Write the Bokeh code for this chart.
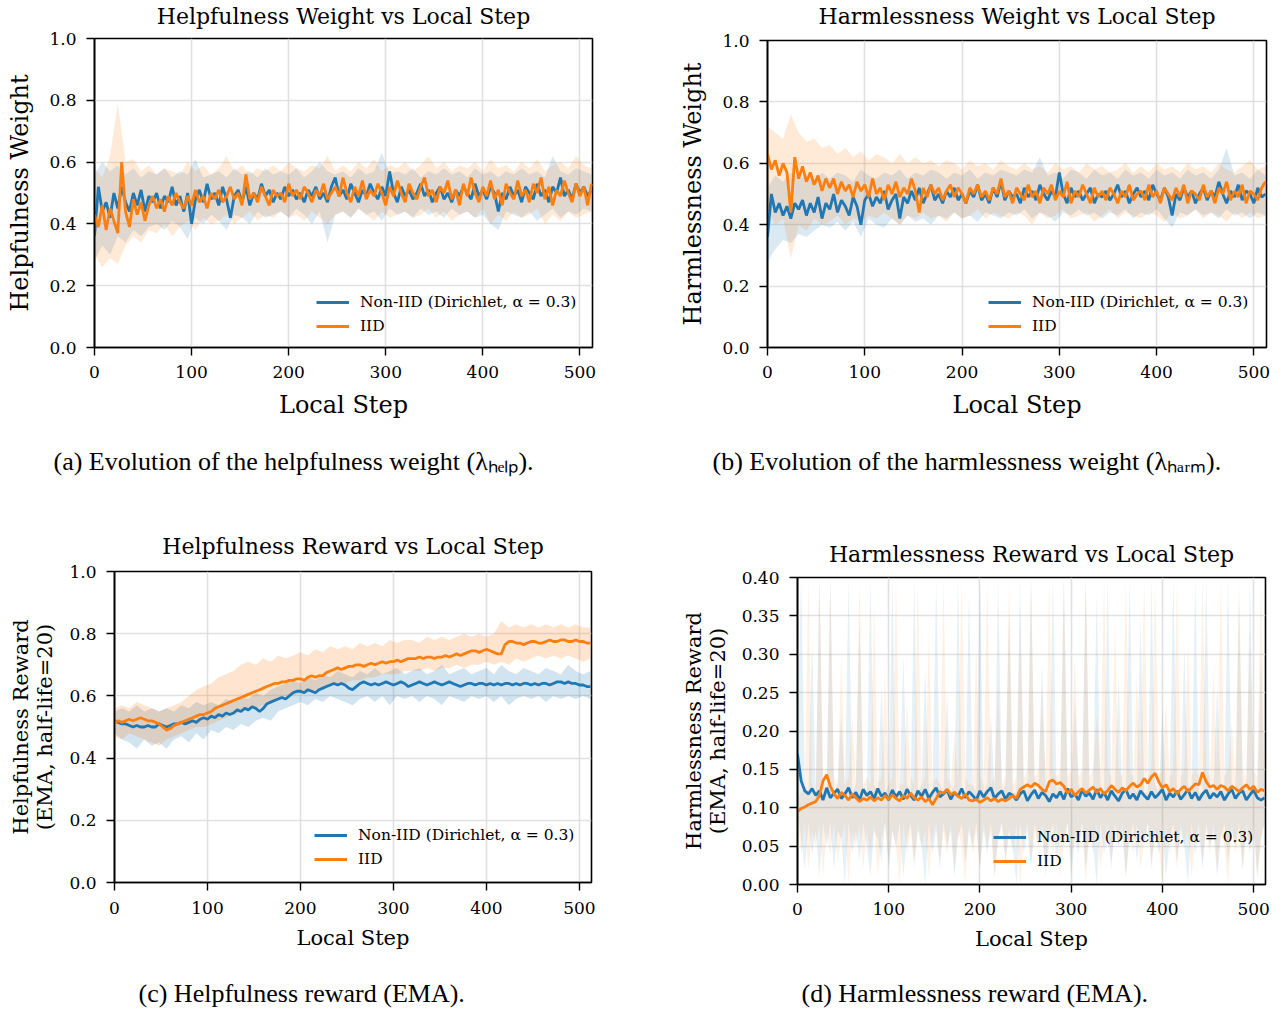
import numpy as np
from bokeh.plotting import figure
from bokeh.models import Range1d, FixedTicker, NumeralTickFormatter, Title
from bokeh.layouts import column, row
from bokeh.embed import file_html
from bokeh.resources import INLINE

BLUE = "#1f77b4"
ORANGE = "#ff7f0e"
SERIES_NAMES = ["Non-IID (Dirichlet, α = 0.3)", "IID"]
STEPS4 = np.arange(0, 513, 4)
STEPS8 = np.arange(0, 513, 8)
X_TICKS = [0, 100, 200, 300, 400, 500]

# ---------------- (a) Helpfulness weight ----------------
help_w_noniid = [
    0.36, 0.52, 0.44, 0.47, 0.42, 0.50, 0.45, 0.52,
    0.47, 0.44, 0.50, 0.46, 0.51, 0.44, 0.49, 0.47,
    0.50, 0.45, 0.49, 0.47, 0.52, 0.46, 0.49, 0.44,
    0.50, 0.40, 0.48, 0.51, 0.47, 0.53, 0.48, 0.50,
    0.46, 0.52, 0.48, 0.42, 0.49, 0.51, 0.47, 0.52,
    0.46, 0.50, 0.48, 0.53, 0.49, 0.51, 0.47, 0.50,
    0.48, 0.52, 0.49, 0.51, 0.48, 0.50, 0.47, 0.51,
    0.49, 0.52, 0.48, 0.50, 0.47, 0.52, 0.55, 0.49,
    0.51, 0.48, 0.53, 0.50, 0.47, 0.51, 0.49, 0.53,
    0.50, 0.48, 0.52, 0.49, 0.57, 0.50, 0.47, 0.52,
    0.49, 0.51, 0.48, 0.50, 0.53, 0.49, 0.51, 0.47,
    0.50, 0.52, 0.48, 0.50, 0.47, 0.51, 0.49, 0.52,
    0.50, 0.48, 0.53, 0.49, 0.51, 0.48, 0.52, 0.50,
    0.44, 0.50, 0.48, 0.52, 0.49, 0.51, 0.47, 0.52,
    0.50, 0.48, 0.53, 0.49, 0.51, 0.47, 0.52, 0.50,
    0.55, 0.49, 0.51, 0.48, 0.53, 0.50, 0.52, 0.49,
    0.51]
help_w_iid = [
    0.43, 0.39, 0.46, 0.38, 0.45, 0.41, 0.37, 0.60,
    0.44, 0.39, 0.48, 0.43, 0.47, 0.41, 0.46, 0.49,
    0.45, 0.48, 0.44, 0.49, 0.46, 0.50, 0.47, 0.45,
    0.49, 0.46, 0.51, 0.47, 0.49, 0.45, 0.50, 0.48,
    0.51, 0.47, 0.49, 0.52, 0.48, 0.50, 0.46, 0.56,
    0.48, 0.50, 0.47, 0.52, 0.49, 0.46, 0.51, 0.49,
    0.50, 0.47, 0.53, 0.49, 0.51, 0.48, 0.52, 0.50,
    0.47, 0.51, 0.49, 0.53, 0.48, 0.50, 0.52, 0.49,
    0.55, 0.50, 0.47, 0.52, 0.49, 0.54, 0.48, 0.51,
    0.49, 0.53, 0.50, 0.46, 0.52, 0.49, 0.54, 0.50,
    0.47, 0.53, 0.50, 0.48, 0.52, 0.55, 0.49, 0.51,
    0.47, 0.52, 0.50, 0.54, 0.48, 0.51, 0.46, 0.53,
    0.49, 0.55, 0.50, 0.47, 0.52, 0.49, 0.54, 0.48,
    0.51, 0.46, 0.53, 0.50, 0.48, 0.54, 0.49, 0.51,
    0.47, 0.53, 0.50, 0.55, 0.48, 0.52, 0.46, 0.51,
    0.49, 0.54, 0.50, 0.47, 0.53, 0.49, 0.52, 0.46,
    0.53]
help_w_noniid_lo = [
    0.28, 0.33, 0.30, 0.36, 0.34, 0.38, 0.36, 0.39,
    0.40, 0.38, 0.41, 0.39, 0.35, 0.42, 0.40, 0.43,
    0.41, 0.38, 0.43, 0.42, 0.40, 0.44, 0.42, 0.43,
    0.44, 0.42, 0.45, 0.43, 0.40, 0.44, 0.34, 0.43,
    0.44, 0.42, 0.45, 0.43, 0.44, 0.41, 0.45, 0.43,
    0.44, 0.42, 0.45, 0.43, 0.44, 0.42, 0.45, 0.43,
    0.44, 0.42, 0.43, 0.40, 0.38, 0.44, 0.43, 0.42,
    0.44, 0.41, 0.43, 0.45, 0.42, 0.44, 0.43, 0.45,
    0.44]
help_w_noniid_hi = [
    0.56, 0.60, 0.57, 0.59, 0.56, 0.58, 0.55, 0.57,
    0.56, 0.58, 0.55, 0.57, 0.56, 0.61, 0.55, 0.56,
    0.57, 0.55, 0.58, 0.56, 0.57, 0.55, 0.58, 0.56,
    0.57, 0.56, 0.58, 0.55, 0.57, 0.60, 0.57, 0.56,
    0.57, 0.55, 0.58, 0.56, 0.57, 0.63, 0.56, 0.57,
    0.56, 0.58, 0.55, 0.57, 0.56, 0.58, 0.56, 0.57,
    0.55, 0.58, 0.56, 0.57, 0.55, 0.57, 0.56, 0.58,
    0.56, 0.57, 0.55, 0.62, 0.57, 0.56, 0.58, 0.57,
    0.56]
help_w_iid_lo = [
    0.30, 0.26, 0.29, 0.27, 0.33, 0.36, 0.34, 0.38,
    0.37, 0.40, 0.36, 0.39, 0.41, 0.38, 0.42, 0.40,
    0.41, 0.43, 0.40, 0.42, 0.44, 0.41, 0.43, 0.42,
    0.44, 0.42, 0.43, 0.41, 0.44, 0.42, 0.40, 0.43,
    0.44, 0.42, 0.45, 0.43, 0.41, 0.44, 0.42, 0.43,
    0.44, 0.42, 0.43, 0.45, 0.42, 0.44, 0.41, 0.43,
    0.44, 0.42, 0.45, 0.40, 0.43, 0.41, 0.44, 0.42,
    0.43, 0.45, 0.40, 0.43, 0.41, 0.44, 0.42, 0.43,
    0.44]
help_w_iid_hi = [
    0.58, 0.55, 0.62, 0.79, 0.60, 0.61, 0.57, 0.59,
    0.56, 0.58, 0.57, 0.56, 0.60, 0.57, 0.59, 0.56,
    0.58, 0.62, 0.57, 0.59, 0.56, 0.58, 0.57, 0.59,
    0.57, 0.60, 0.58, 0.57, 0.59, 0.58, 0.62, 0.57,
    0.59, 0.57, 0.60, 0.58, 0.61, 0.57, 0.59, 0.58,
    0.60, 0.57, 0.59, 0.62, 0.58, 0.60, 0.57, 0.59,
    0.58, 0.60, 0.57, 0.61, 0.58, 0.59, 0.57, 0.60,
    0.58, 0.61, 0.57, 0.59, 0.60, 0.58, 0.62, 0.59,
    0.58]

# ---------------- (b) Harmlessness weight ----------------
harm_w_noniid = [
    0.36, 0.50, 0.44, 0.47, 0.43, 0.46, 0.42, 0.47,
    0.45, 0.48, 0.43, 0.47, 0.44, 0.49, 0.42, 0.47,
    0.45, 0.50, 0.44, 0.48, 0.46, 0.43, 0.49, 0.46,
    0.40, 0.48, 0.50, 0.46, 0.49, 0.47, 0.51, 0.45,
    0.48, 0.50, 0.42, 0.49, 0.47, 0.51, 0.48, 0.52,
    0.47, 0.50, 0.53, 0.48, 0.50, 0.47, 0.51, 0.49,
    0.52, 0.48, 0.50, 0.47, 0.51, 0.49, 0.53, 0.48,
    0.50, 0.47, 0.52, 0.49, 0.54, 0.48, 0.51, 0.49,
    0.50, 0.47, 0.52, 0.49, 0.51, 0.48, 0.53, 0.50,
    0.48, 0.51, 0.49, 0.57, 0.50, 0.47, 0.52, 0.49,
    0.51, 0.48, 0.50, 0.52, 0.47, 0.50, 0.49, 0.51,
    0.48, 0.50, 0.53, 0.49, 0.51, 0.47, 0.50, 0.52,
    0.49, 0.51, 0.48, 0.53, 0.50, 0.48, 0.52, 0.49,
    0.43, 0.50, 0.48, 0.52, 0.49, 0.51, 0.47, 0.50,
    0.52, 0.48, 0.51, 0.49, 0.54, 0.50, 0.47, 0.51,
    0.49, 0.53, 0.48, 0.51, 0.50, 0.47, 0.52, 0.49,
    0.50]
harm_w_iid = [
    0.63, 0.58, 0.61, 0.56, 0.60, 0.57, 0.44, 0.62,
    0.55, 0.59, 0.54, 0.57, 0.53, 0.56, 0.51, 0.55,
    0.52, 0.55, 0.50, 0.54, 0.51, 0.53, 0.49, 0.54,
    0.51, 0.53, 0.49, 0.55, 0.50, 0.52, 0.48, 0.53,
    0.50, 0.54, 0.49, 0.52, 0.50, 0.55, 0.51, 0.44,
    0.52, 0.49, 0.53, 0.50, 0.52, 0.48, 0.51, 0.53,
    0.49, 0.52, 0.50, 0.47, 0.52, 0.50, 0.53, 0.49,
    0.51, 0.48, 0.52, 0.50, 0.55, 0.49, 0.51, 0.47,
    0.52, 0.50, 0.48, 0.53, 0.49, 0.51, 0.47, 0.52,
    0.50, 0.53, 0.48, 0.51, 0.49, 0.54, 0.47, 0.51,
    0.49, 0.53, 0.50, 0.47, 0.52, 0.49, 0.51, 0.48,
    0.52, 0.50, 0.47, 0.51, 0.49, 0.53, 0.48, 0.50,
    0.51, 0.48, 0.53, 0.49, 0.51, 0.47, 0.52, 0.50,
    0.48, 0.52, 0.49, 0.53, 0.47, 0.51, 0.50, 0.48,
    0.53, 0.49, 0.51, 0.47, 0.52, 0.50, 0.54, 0.48,
    0.51, 0.49, 0.53, 0.47, 0.51, 0.50, 0.48, 0.52,
    0.54]
harm_w_noniid_lo = [
    0.28, 0.32, 0.35, 0.34, 0.37, 0.36, 0.38, 0.40,
    0.39, 0.41, 0.38, 0.41, 0.36, 0.42, 0.40, 0.39,
    0.42, 0.40, 0.43, 0.41, 0.42, 0.40, 0.43, 0.42,
    0.44, 0.42, 0.43, 0.41, 0.44, 0.43, 0.42, 0.44,
    0.43, 0.45, 0.42, 0.44, 0.43, 0.41, 0.44, 0.43,
    0.45, 0.43, 0.44, 0.42, 0.44, 0.43, 0.45, 0.42,
    0.44, 0.43, 0.45, 0.42, 0.39, 0.44, 0.43, 0.45,
    0.43, 0.44, 0.42, 0.45, 0.43, 0.44, 0.42, 0.44,
    0.43]
harm_w_noniid_hi = [
    0.52, 0.56, 0.54, 0.57, 0.55, 0.56, 0.54, 0.57,
    0.55, 0.57, 0.56, 0.54, 0.58, 0.56, 0.55, 0.57,
    0.56, 0.58, 0.55, 0.57, 0.56, 0.58, 0.57, 0.55,
    0.57, 0.56, 0.58, 0.55, 0.57, 0.56, 0.58, 0.57,
    0.56, 0.58, 0.57, 0.62, 0.56, 0.57, 0.55, 0.58,
    0.57, 0.55, 0.58, 0.56, 0.57, 0.55, 0.58, 0.56,
    0.57, 0.55, 0.58, 0.56, 0.57, 0.55, 0.58, 0.56,
    0.57, 0.55, 0.58, 0.65, 0.56, 0.57, 0.55, 0.58,
    0.56]
harm_w_iid_lo = [
    0.45, 0.40, 0.42, 0.29, 0.40, 0.38, 0.42, 0.40,
    0.41, 0.43, 0.40, 0.42, 0.41, 0.43, 0.42, 0.44,
    0.42, 0.40, 0.43, 0.42, 0.44, 0.42, 0.43, 0.41,
    0.44, 0.42, 0.43, 0.45, 0.42, 0.44, 0.43, 0.42,
    0.44, 0.43, 0.40, 0.44, 0.42, 0.43, 0.45, 0.42,
    0.43, 0.44, 0.41, 0.43, 0.45, 0.42, 0.44, 0.43,
    0.42, 0.44, 0.43, 0.41, 0.44, 0.42, 0.43, 0.45,
    0.42, 0.44, 0.43, 0.41, 0.44, 0.42, 0.44, 0.42,
    0.43]
harm_w_iid_hi = [
    0.72, 0.70, 0.68, 0.76, 0.70, 0.67, 0.68, 0.65,
    0.66, 0.63, 0.65, 0.62, 0.64, 0.61, 0.63, 0.62,
    0.60, 0.63, 0.60, 0.62, 0.60, 0.61, 0.59, 0.61,
    0.60, 0.58, 0.61, 0.59, 0.60, 0.58, 0.61, 0.59,
    0.58, 0.60, 0.58, 0.59, 0.57, 0.60, 0.58, 0.59,
    0.57, 0.60, 0.58, 0.59, 0.57, 0.58, 0.60, 0.57,
    0.59, 0.57, 0.60, 0.58, 0.59, 0.57, 0.60, 0.58,
    0.59, 0.57, 0.60, 0.58, 0.57, 0.59, 0.61, 0.58,
    0.59]

# ---------------- (c) Helpfulness reward (EMA) ----------------
help_r_noniid = [
    0.52, 0.515, 0.51, 0.51, 0.505, 0.50, 0.505, 0.50,
    0.50, 0.505, 0.50, 0.50, 0.51, 0.505, 0.50, 0.505,
    0.51, 0.51, 0.515, 0.51, 0.515, 0.52, 0.515, 0.525,
    0.53, 0.525, 0.535, 0.53, 0.54, 0.535, 0.545, 0.54,
    0.545, 0.555, 0.55, 0.56, 0.555, 0.565, 0.56, 0.55,
    0.56, 0.575, 0.58, 0.585, 0.59, 0.595, 0.59, 0.60,
    0.61, 0.615, 0.615, 0.61, 0.62, 0.615, 0.61, 0.62,
    0.625, 0.63, 0.635, 0.64, 0.635, 0.64, 0.635, 0.625,
    0.62, 0.63, 0.64, 0.645, 0.64, 0.635, 0.64, 0.635,
    0.64, 0.645, 0.64, 0.635, 0.64, 0.645, 0.64, 0.63,
    0.635, 0.64, 0.645, 0.64, 0.635, 0.64, 0.645, 0.64,
    0.635, 0.64, 0.645, 0.64, 0.635, 0.63, 0.635, 0.64,
    0.64, 0.635, 0.64, 0.64, 0.635, 0.64, 0.635, 0.64,
    0.635, 0.64, 0.64, 0.635, 0.64, 0.635, 0.64, 0.64,
    0.635, 0.64, 0.635, 0.64, 0.64, 0.635, 0.64, 0.645,
    0.645, 0.64, 0.645, 0.64, 0.64, 0.635, 0.635, 0.63,
    0.63]
help_r_iid = [
    0.515, 0.52, 0.515, 0.52, 0.525, 0.52, 0.525, 0.53,
    0.525, 0.52, 0.52, 0.515, 0.51, 0.50, 0.49, 0.495,
    0.505, 0.51, 0.515, 0.52, 0.525, 0.53, 0.535, 0.54,
    0.54, 0.545, 0.55, 0.56, 0.565, 0.57, 0.575, 0.58,
    0.585, 0.59, 0.595, 0.60, 0.605, 0.61, 0.615, 0.62,
    0.625, 0.63, 0.635, 0.64, 0.64, 0.645, 0.645, 0.65,
    0.65, 0.655, 0.655, 0.65, 0.66, 0.665, 0.66, 0.665,
    0.665, 0.675, 0.68, 0.685, 0.69, 0.685, 0.69, 0.695,
    0.695, 0.70, 0.70, 0.695, 0.70, 0.705, 0.70, 0.705,
    0.71, 0.705, 0.71, 0.71, 0.715, 0.71, 0.715, 0.72,
    0.72, 0.72, 0.725, 0.72, 0.725, 0.725, 0.72, 0.725,
    0.725, 0.73, 0.725, 0.73, 0.735, 0.73, 0.735, 0.74,
    0.745, 0.745, 0.74, 0.745, 0.75, 0.745, 0.74, 0.735,
    0.735, 0.765, 0.775, 0.775, 0.77, 0.77, 0.765, 0.77,
    0.775, 0.775, 0.77, 0.77, 0.775, 0.78, 0.775, 0.775,
    0.78, 0.78, 0.775, 0.775, 0.78, 0.775, 0.775, 0.77,
    0.77]
help_r_noniid_lo = [
    0.48, 0.46, 0.45, 0.43, 0.46, 0.44, 0.45, 0.43,
    0.46, 0.47, 0.45, 0.48, 0.46, 0.49, 0.48, 0.50,
    0.49, 0.51, 0.50, 0.52, 0.53, 0.52, 0.55, 0.56,
    0.57, 0.58, 0.57, 0.59, 0.58, 0.60, 0.59, 0.58,
    0.57, 0.59, 0.60, 0.58, 0.60, 0.57, 0.60, 0.59,
    0.60, 0.58, 0.60, 0.59, 0.57, 0.60, 0.59, 0.58,
    0.60, 0.59, 0.60, 0.58, 0.60, 0.57, 0.59, 0.60,
    0.59, 0.60, 0.58, 0.60, 0.59, 0.60, 0.59, 0.60,
    0.59]
help_r_noniid_hi = [
    0.55, 0.56, 0.55, 0.57, 0.55, 0.56, 0.55, 0.56,
    0.55, 0.57, 0.56, 0.58, 0.57, 0.58, 0.57, 0.59,
    0.58, 0.60, 0.59, 0.61, 0.60, 0.62, 0.63, 0.64,
    0.65, 0.64, 0.66, 0.65, 0.67, 0.66, 0.68, 0.67,
    0.66, 0.68, 0.67, 0.69, 0.67, 0.68, 0.69, 0.67,
    0.68, 0.69, 0.67, 0.68, 0.70, 0.67, 0.68, 0.69,
    0.67, 0.68, 0.69, 0.67, 0.70, 0.68, 0.67, 0.69,
    0.68, 0.67, 0.69, 0.68, 0.67, 0.70, 0.68, 0.67,
    0.68]
help_r_iid_lo = [
    0.47, 0.46, 0.48, 0.47, 0.46, 0.45, 0.44, 0.46,
    0.47, 0.48, 0.49, 0.50, 0.50, 0.51, 0.52, 0.53,
    0.54, 0.55, 0.56, 0.56, 0.57, 0.58, 0.59, 0.60,
    0.60, 0.61, 0.61, 0.62, 0.63, 0.63, 0.64, 0.64,
    0.65, 0.65, 0.66, 0.66, 0.67, 0.67, 0.67, 0.68,
    0.68, 0.68, 0.69, 0.68, 0.69, 0.69, 0.70, 0.69,
    0.70, 0.70, 0.71, 0.70, 0.71, 0.70, 0.72, 0.71,
    0.72, 0.73, 0.72, 0.73, 0.72, 0.73, 0.72, 0.71,
    0.72]
help_r_iid_hi = [
    0.56, 0.57, 0.56, 0.58, 0.57, 0.56, 0.55, 0.56,
    0.57, 0.58, 0.60, 0.62, 0.63, 0.64, 0.66, 0.67,
    0.68, 0.70, 0.71, 0.70, 0.72, 0.71, 0.73, 0.72,
    0.73, 0.74, 0.73, 0.75, 0.74, 0.76, 0.75, 0.76,
    0.75, 0.77, 0.76, 0.77, 0.76, 0.78, 0.77, 0.78,
    0.78, 0.77, 0.79, 0.78, 0.79, 0.78, 0.79, 0.80,
    0.79, 0.80, 0.79, 0.80, 0.84, 0.82, 0.83, 0.82,
    0.83, 0.82, 0.83, 0.82, 0.83, 0.82, 0.83, 0.82,
    0.82]

# ---------------- (d) Harmlessness reward (EMA) ----------------
harm_r_noniid = [
    0.170, 0.135, 0.122, 0.118, 0.125, 0.116, 0.122, 0.110,
    0.126, 0.113, 0.119, 0.124, 0.112, 0.118, 0.126, 0.113,
    0.120, 0.110, 0.124, 0.116, 0.121, 0.112, 0.125, 0.115,
    0.119, 0.110, 0.123, 0.114, 0.121, 0.111, 0.124, 0.116,
    0.110, 0.122, 0.115, 0.124, 0.112, 0.120, 0.126, 0.114,
    0.118, 0.123, 0.111, 0.120, 0.115, 0.125, 0.113, 0.121,
    0.116, 0.110, 0.122, 0.114, 0.121, 0.126, 0.112, 0.118,
    0.122, 0.111, 0.119, 0.116, 0.110, 0.118, 0.122, 0.109,
    0.117, 0.123, 0.112, 0.120, 0.116, 0.108, 0.118, 0.113,
    0.121, 0.111, 0.125, 0.114, 0.118, 0.110, 0.123, 0.115,
    0.119, 0.111, 0.124, 0.113, 0.120, 0.110, 0.122, 0.115,
    0.109, 0.119, 0.124, 0.112, 0.118, 0.110, 0.122, 0.116,
    0.111, 0.121, 0.113, 0.118, 0.124, 0.110, 0.119, 0.114,
    0.122, 0.111, 0.117, 0.124, 0.112, 0.120, 0.110, 0.118,
    0.123, 0.112, 0.119, 0.114, 0.121, 0.110, 0.118, 0.124,
    0.112, 0.119, 0.122, 0.110, 0.117, 0.123, 0.113, 0.110,
    0.113]
harm_r_iid = [
    0.095, 0.099, 0.101, 0.104, 0.106, 0.108, 0.116, 0.135,
    0.143, 0.128, 0.118, 0.112, 0.120, 0.116, 0.110, 0.118,
    0.113, 0.108, 0.112, 0.110, 0.114, 0.109, 0.113, 0.110,
    0.116, 0.111, 0.117, 0.112, 0.109, 0.116, 0.112, 0.119,
    0.113, 0.110, 0.114, 0.108, 0.112, 0.104, 0.112, 0.121,
    0.119, 0.124, 0.117, 0.120, 0.115, 0.112, 0.118, 0.110,
    0.109, 0.111, 0.107, 0.110, 0.113, 0.109, 0.112, 0.108,
    0.111, 0.109, 0.112, 0.116, 0.112, 0.124, 0.127, 0.130,
    0.127, 0.132, 0.129, 0.124, 0.121, 0.134, 0.136, 0.131,
    0.133, 0.128, 0.119, 0.124, 0.116, 0.121, 0.125, 0.119,
    0.123, 0.127, 0.120, 0.125, 0.118, 0.122, 0.129, 0.124,
    0.120, 0.126, 0.122, 0.128, 0.132, 0.127, 0.130, 0.138,
    0.132, 0.140, 0.145, 0.134, 0.126, 0.130, 0.121, 0.125,
    0.118, 0.124, 0.128, 0.121, 0.126, 0.131, 0.130, 0.146,
    0.134, 0.127, 0.129, 0.124, 0.129, 0.127, 0.122, 0.128,
    0.125, 0.121, 0.126, 0.130, 0.124, 0.128, 0.120, 0.124,
    0.122]
harm_r_noniid_lo = [
    0.10, 0.06, 0.02, 0.08, 0.04, 0.07, 0.01, 0.08,
    0.05, 0.08, 0.02, 0.07, 0.06, 0.00, 0.08, 0.04,
    0.07, 0.03, 0.08, 0.05, 0.01, 0.07, 0.06, 0.03,
    0.08, 0.02, 0.07, 0.05, 0.08, 0.01, 0.06, 0.08,
    0.03, 0.07, 0.05, 0.00, 0.08, 0.04, 0.07, 0.02,
    0.08, 0.05, 0.07, 0.01, 0.06, 0.08, 0.03, 0.07,
    0.05, 0.08, 0.02, 0.07, 0.04, 0.08, 0.01, 0.06,
    0.08, 0.03, 0.07, 0.05, 0.00, 0.08, 0.04, 0.07,
    0.02, 0.08, 0.05, 0.07, 0.01, 0.06, 0.08, 0.03,
    0.07, 0.05, 0.08, 0.01, 0.06, 0.04, 0.08, 0.02,
    0.07, 0.05, 0.00, 0.08, 0.04, 0.07, 0.02, 0.08,
    0.05, 0.07, 0.01, 0.06, 0.08, 0.03, 0.07, 0.05,
    0.08, 0.02, 0.07, 0.04, 0.08, 0.01, 0.06, 0.08,
    0.03, 0.07, 0.05, 0.00, 0.08, 0.04, 0.07, 0.02,
    0.08, 0.05, 0.07, 0.01, 0.06, 0.08, 0.03, 0.07,
    0.05, 0.08, 0.02, 0.07, 0.04, 0.08, 0.01, 0.06,
    0.08]
harm_r_noniid_hi = [
    0.20, 0.40, 0.13, 0.12, 0.32, 0.12, 0.40, 0.13,
    0.12, 0.40, 0.12, 0.13, 0.22, 0.12, 0.40, 0.12,
    0.13, 0.35, 0.12, 0.12, 0.40, 0.13, 0.12, 0.26,
    0.12, 0.13, 0.40, 0.12, 0.12, 0.30, 0.13, 0.12,
    0.40, 0.12, 0.13, 0.28, 0.12, 0.12, 0.40, 0.13,
    0.12, 0.25, 0.12, 0.13, 0.40, 0.12, 0.12, 0.38,
    0.13, 0.12, 0.40, 0.12, 0.13, 0.22, 0.12, 0.40,
    0.12, 0.13, 0.36, 0.12, 0.12, 0.40, 0.13, 0.12,
    0.40, 0.12, 0.12, 0.29, 0.13, 0.12, 0.40, 0.12,
    0.13, 0.40, 0.12, 0.12, 0.24, 0.13, 0.12, 0.40,
    0.12, 0.12, 0.38, 0.13, 0.12, 0.40, 0.12, 0.13,
    0.27, 0.12, 0.12, 0.40, 0.13, 0.12, 0.35, 0.12,
    0.12, 0.40, 0.13, 0.12, 0.23, 0.12, 0.13, 0.40,
    0.12, 0.12, 0.31, 0.13, 0.12, 0.40, 0.12, 0.12,
    0.40, 0.13, 0.12, 0.26, 0.12, 0.13, 0.40, 0.12,
    0.12, 0.37, 0.13, 0.12, 0.40, 0.12, 0.12, 0.30,
    0.13]
harm_r_iid_lo = [
    0.09, 0.04, 0.08, 0.02, 0.07, 0.05, 0.08, 0.01,
    0.07, 0.04, 0.08, 0.03, 0.06, 0.08, 0.00, 0.07,
    0.05, 0.08, 0.02, 0.07, 0.04, 0.08, 0.01, 0.06,
    0.08, 0.03, 0.07, 0.05, 0.00, 0.08, 0.04, 0.07,
    0.02, 0.08, 0.05, 0.07, 0.01, 0.06, 0.08, 0.03,
    0.07, 0.04, 0.08, 0.02, 0.07, 0.05, 0.00, 0.08,
    0.04, 0.07, 0.02, 0.08, 0.05, 0.07, 0.01, 0.06,
    0.08, 0.03, 0.07, 0.04, 0.08, 0.00, 0.06, 0.08,
    0.03, 0.07, 0.05, 0.08, 0.02, 0.07, 0.04, 0.08,
    0.01, 0.06, 0.08, 0.03, 0.07, 0.05, 0.08, 0.00,
    0.07, 0.04, 0.08, 0.02, 0.06, 0.08, 0.03, 0.07,
    0.05, 0.08, 0.01, 0.07, 0.04, 0.08, 0.02, 0.06,
    0.08, 0.03, 0.07, 0.05, 0.00, 0.08, 0.04, 0.07,
    0.02, 0.08, 0.05, 0.07, 0.01, 0.06, 0.08, 0.03,
    0.07, 0.04, 0.08, 0.02, 0.07, 0.05, 0.00, 0.08,
    0.04, 0.07, 0.02, 0.08, 0.05, 0.07, 0.01, 0.06,
    0.08]
harm_r_iid_hi = [
    0.11, 0.12, 0.13, 0.40, 0.13, 0.12, 0.40, 0.14,
    0.13, 0.40, 0.14, 0.13, 0.30, 0.13, 0.14, 0.22,
    0.13, 0.40, 0.13, 0.14, 0.13, 0.37, 0.13, 0.14,
    0.28, 0.13, 0.14, 0.40, 0.13, 0.13, 0.24, 0.14,
    0.13, 0.40, 0.13, 0.14, 0.33, 0.13, 0.14, 0.13,
    0.40, 0.14, 0.13, 0.20, 0.13, 0.40, 0.14, 0.13,
    0.13, 0.31, 0.14, 0.13, 0.40, 0.13, 0.14, 0.26,
    0.13, 0.14, 0.40, 0.13, 0.14, 0.35, 0.14, 0.15,
    0.40, 0.14, 0.15, 0.25, 0.14, 0.40, 0.15, 0.14,
    0.15, 0.40, 0.14, 0.15, 0.30, 0.14, 0.15, 0.40,
    0.14, 0.15, 0.22, 0.14, 0.40, 0.15, 0.14, 0.34,
    0.15, 0.14, 0.40, 0.15, 0.14, 0.27, 0.15, 0.40,
    0.14, 0.15, 0.40, 0.14, 0.15, 0.24, 0.14, 0.15,
    0.40, 0.14, 0.15, 0.32, 0.14, 0.15, 0.14, 0.40,
    0.15, 0.14, 0.28, 0.15, 0.40, 0.14, 0.15, 0.21,
    0.14, 0.40, 0.15, 0.14, 0.33, 0.15, 0.14, 0.40,
    0.15]

SERIF = "DejaVu Serif"


def spacer(gap):
    return Title(text=" ", text_font_size="1px", standoff=gap, text_color="white")


def make_panel(cfg):
    p = figure(width=643, height=505, output_backend="svg", toolbar_location=None,
               x_range=Range1d(0, 513), y_range=Range1d(*cfg["yrange"]),
               min_border_left=cfg["borders"][0], min_border_right=cfg["borders"][1],
               min_border_top=cfg["borders"][2], min_border_bottom=cfg["borders"][3])
    p.background_fill_color = "white"
    p.border_fill_color = "white"
    p.outline_line_color = "black"
    p.outline_line_width = 1.6
    p.outline_line_alpha = 1.0

    # title: spacer next to the frame, then the visible title
    p.add_layout(spacer(cfg["title_gap"]), "above")
    p.add_layout(Title(text=cfg["title"], text_font=SERIF, text_font_size="22px",
                       text_font_style="normal", align="center", standoff=0,
                       text_color="black"), "above")

    p.xaxis.ticker = FixedTicker(ticks=X_TICKS)
    p.yaxis.ticker = FixedTicker(ticks=cfg["yticks"])
    p.yaxis.formatter = NumeralTickFormatter(format=cfg["yfmt"])
    for ax in (p.xaxis, p.yaxis):
        ax.major_label_text_font = SERIF
        ax.major_label_text_font_size = "17px"
        ax.major_label_text_color = "black"
        ax.axis_label_text_font = SERIF
        ax.axis_label_text_font_style = "normal"
        ax.axis_label_text_color = "black"
        ax.axis_label_text_line_height = 1.0
        ax.axis_line_width = 1.6
        ax.axis_line_color = "black"
        ax.major_tick_line_width = 1.4
        ax.major_tick_line_color = "black"
        ax.major_tick_in = 0
        ax.major_tick_out = 8
        ax.minor_tick_line_color = None
    p.xaxis.axis_label = "Local Step"
    p.yaxis.axis_label = cfg["ylabel"]
    p.xaxis.axis_label_text_font_size = cfg["label_size"]
    p.yaxis.axis_label_text_font_size = cfg["label_size"]
    p.xaxis.major_label_standoff = cfg["xtick_standoff"]
    p.yaxis.major_label_standoff = 10
    p.xaxis.axis_label_standoff = cfg["xlabel_standoff"]
    p.yaxis.axis_label_standoff = cfg["ylabel_standoff"]

    # caption: spacer below the axis, then the caption text
    p.add_layout(spacer(cfg["cap_gap"]), "below")
    p.add_layout(Title(text=cfg["caption"], text_font="Liberation Serif", text_font_size="26px",
                       text_font_style="normal", align="left", offset=cfg["cap_offset"],
                       standoff=0, text_color="black"), "below")

    p.grid.grid_line_color = "#d9d9d9"
    p.grid.grid_line_width = 1.6
    p.grid.grid_line_alpha = 0.8

    bx = cfg["band_x"]
    p.varea(x=bx, y1=cfg["nlo"], y2=cfg["nhi"], fill_color=BLUE, fill_alpha=cfg["band_alpha"])
    p.varea(x=bx, y1=cfg["ilo"], y2=cfg["ihi"], fill_color=ORANGE, fill_alpha=cfg["band_alpha"])
    p.line(STEPS4, cfg["nmean"], line_color=BLUE, line_width=2.8, legend_label=SERIES_NAMES[0])
    p.line(STEPS4, cfg["imean"], line_color=ORANGE, line_width=2.8, legend_label=SERIES_NAMES[1])

    lg = p.legend[0]
    lg.location = cfg["legend_loc"]
    lg.background_fill_alpha = 0
    lg.border_line_alpha = 0
    lg.padding = 0
    lg.margin = 0
    lg.spacing = 4
    lg.glyph_width = 33
    lg.glyph_height = 20
    lg.label_height = 20
    lg.label_standoff = 11
    lg.label_text_font = SERIF
    lg.label_text_font_size = "15.5px"
    lg.label_text_color = "black"
    return p


pa = make_panel(dict(
    title="Helpfulness Weight vs Local Step", yrange=(0, 1.0),
    yticks=[0, 0.2, 0.4, 0.6, 0.8, 1.0], yfmt="0.0",
    borders=(94, 51, 38, 158), title_gap=7,
    ylabel="Helpfulness Weight", label_size="24px", xtick_standoff=10,
    xlabel_standoff=10, ylabel_standoff=12, band_alpha=0.16,
    band_x=STEPS8, nlo=help_w_noniid_lo, nhi=help_w_noniid_hi,
    ilo=help_w_iid_lo, ihi=help_w_iid_hi, nmean=help_w_noniid, imean=help_w_iid,
    legend_loc=(222, 11), cap_gap=20, cap_offset=-41,
    caption="(a) Evolution of the helpfulness weight (λₕₑₗₚ)."))

pb = make_panel(dict(
    title="Harmlessness Weight vs Local Step", yrange=(0, 1.0),
    yticks=[0, 0.2, 0.4, 0.6, 0.8, 1.0], yfmt="0.0",
    borders=(124, 20, 40, 158), title_gap=9,
    ylabel="Harmlessness Weight", label_size="24px", xtick_standoff=10,
    xlabel_standoff=10, ylabel_standoff=12, band_alpha=0.16,
    band_x=STEPS8, nlo=harm_w_noniid_lo, nhi=harm_w_noniid_hi,
    ilo=harm_w_iid_lo, ihi=harm_w_iid_hi, nmean=harm_w_noniid, imean=harm_w_iid,
    legend_loc=(221, 11), cap_gap=20, cap_offset=-55,
    caption="(b) Evolution of the harmlessness weight (λₕₐᵣₘ)."))

pc = make_panel(dict(
    title="Helpfulness Reward vs Local Step", yrange=(0, 1.0),
    yticks=[0, 0.2, 0.4, 0.6, 0.8, 1.0], yfmt="0.0",
    borders=(114, 52, 66, 128), title_gap=10,
    ylabel="Helpfulness Reward\n(EMA, half-life=20)", label_size="21px", xtick_standoff=11,
    xlabel_standoff=9, ylabel_standoff=9, band_alpha=0.2,
    band_x=STEPS8, nlo=help_r_noniid_lo, nhi=help_r_noniid_hi,
    ilo=help_r_iid_lo, ihi=help_r_iid_hi, nmean=help_r_noniid, imean=help_r_iid,
    legend_loc=(200, 13), cap_gap=21, cap_offset=24,
    caption="(c) Helpfulness reward (EMA)."))

pd_ = make_panel(dict(
    title="Harmlessness Reward vs Local Step", yrange=(0, 0.40),
    yticks=[0, 0.05, 0.10, 0.15, 0.20, 0.25, 0.30, 0.35, 0.40], yfmt="0.00",
    borders=(154, 21, 72, 126), title_gap=8,
    ylabel="Harmlessness Reward\n(EMA, half-life=20)", label_size="21px", xtick_standoff=10,
    xlabel_standoff=9, ylabel_standoff=9, band_alpha=0.11,
    band_x=STEPS4, nlo=harm_r_noniid_lo, nhi=harm_r_noniid_hi,
    ilo=harm_r_iid_lo, ihi=harm_r_iid_hi, nmean=harm_r_noniid, imean=harm_r_iid,
    legend_loc=(196, 13), cap_gap=20, cap_offset=4,
    caption="(d) Harmlessness reward (EMA)."))

layout = column(row(column(pa), column(pb), spacing=0),
                row(column(pc), column(pd_), spacing=0), spacing=0)

open("out.html", "w").write(file_html(layout, INLINE))
